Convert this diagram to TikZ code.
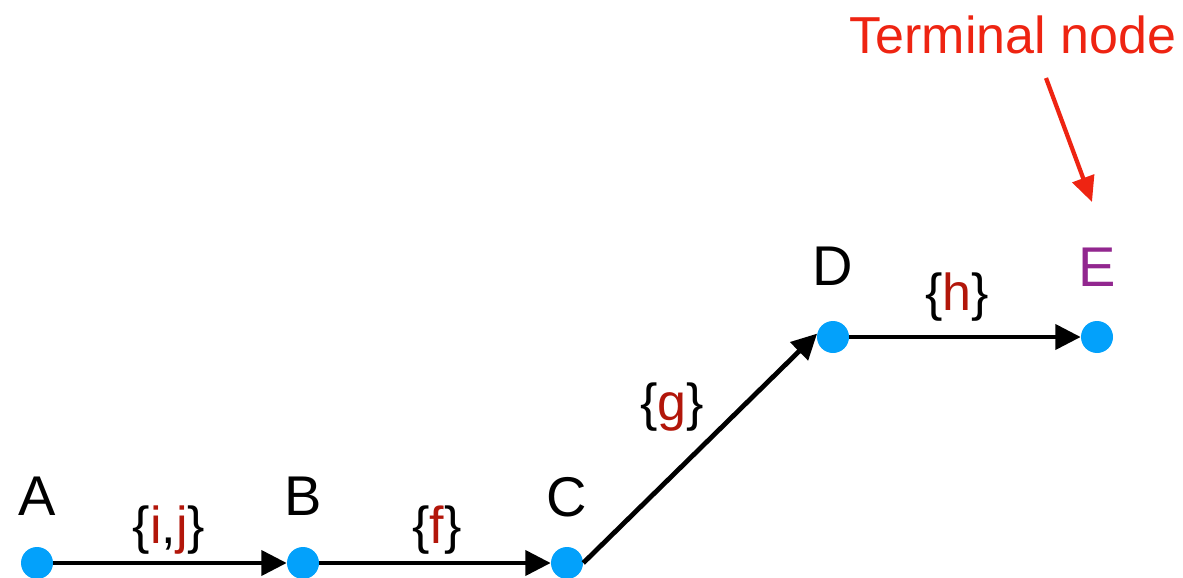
\documentclass[tikz,border=0pt]{standalone}
\usepackage{fontspec}
\setmainfont{Liberation Sans}
\usetikzlibrary{arrows.meta}
\definecolor{dotblue}{RGB}{3,161,251}
\definecolor{termred}{RGB}{238,36,18}
\definecolor{lblred}{RGB}{178,22,10}
\definecolor{epurple}{RGB}{146,39,143}
\tikzset{
  dot/.style={circle,fill=dotblue,minimum size=24pt,inner sep=0pt},
  vlabel/.style={font=\fontsize{42}{48}\selectfont,anchor=base,inner sep=0pt},
  elabel/.style={font=\fontsize{39}{45}\selectfont,inner sep=0pt},
  edge/.style={line width=3.6pt,-{Triangle[length=19pt,width=18.5pt]}},
  callout/.style={line width=3.2pt,termred,-{Triangle[length=19pt,width=17pt]}}
}
\begin{document}
\begin{tikzpicture}[x=0.75pt,y=-0.75pt]
\useasboundingbox (0,0) rectangle (1183,578);
\node[dot] (A) at (37,563) {};
\node[dot] (B) at (303,563) {};
\node[dot] (C) at (567,563) {};
\node[dot] (D) at (833,337) {};
\node[dot] (E) at (1097,337) {};
\draw[edge] (A) -- (B);
\draw[edge] (B) -- (C);
\draw[edge] (C.east) -- (D.168);
\draw[edge] (D) -- (E);
\node[vlabel] (lA) at (37,515) {A};
\node[vlabel] (lB) at (303,515) {B};
\node[vlabel] (lC) at (567,516) {C};
\node[vlabel] (lD) at (833,285) {D};
\node[vlabel,text=epurple] (lE) at (1097,286) {E};
\node[elabel] (eAB) at (169,530) {\{\textcolor{lblred}{i},\textcolor{lblred}{j}\}};
\node[elabel] (eBC) at (437,530) {\{\textcolor{lblred}{f}\}};
\node[elabel] (eCD) at (672,407) {\{\textcolor{lblred}{g}\}};
\node[elabel] (eDE) at (957,297) {\{\textcolor{lblred}{h}\}};
\node[font=\fontsize{39}{45}\selectfont,text=termred,anchor=base,inner sep=0pt] (term) at (1013,53) {Terminal node};
\coordinate (cs) at (1046,78);
\coordinate (ct) at (1092,202);
\draw[callout] (cs) -- (ct);
\end{tikzpicture}
\end{document}
